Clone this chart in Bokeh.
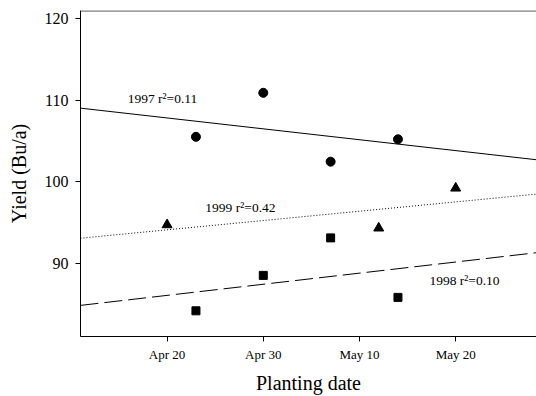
import numpy as np
from bokeh.plotting import figure
from bokeh.models import Range1d, FixedTicker, Label, Span
from bokeh.embed import file_html
from bokeh.resources import INLINE

# Planting dates as day of year (non-leap)
x1997 = [113, 120, 127, 134]
y1997 = [105.5, 110.9, 102.45, 105.2]
x1998 = [113, 120, 127, 134]
y1998 = [84.15, 88.5, 93.1, 85.8]
x1999 = [110, 132, 140]
y1999 = [94.7, 94.3, 99.2]

tick_days = [110, 120, 130, 140]
tick_labels = ["Apr 20", "Apr 30", "May 10", "May 20"]
y_ticks = [90, 100, 110, 120]

labels = ["1997 r\u00b2=0.11", "1999 r\u00b2=0.42", "1998 r\u00b2=0.10"]

FONT = "Liberation Serif"

xr = Range1d(101, 148.4)
p = figure(width=536, height=396, x_range=xr, y_range=Range1d(81, 121),
           output_backend="svg", toolbar_location=None,
           min_border_left=80, min_border_right=0, min_border_top=10, min_border_bottom=60)
p.grid.visible = False
p.outline_line_color = None
p.background_fill_color = "white"
p.border_fill_color = "white"

for ax in (p.xaxis[0], p.yaxis[0]):
    ax.axis_line_color = "black"
    ax.major_tick_line_color = "black"
    ax.minor_tick_line_color = None
    ax.major_tick_in = 0
    ax.major_tick_out = 5
    ax.major_label_text_font = FONT
    ax.major_label_text_color = "black"
    ax.axis_label_text_font = FONT
    ax.axis_label_text_font_style = "normal"
    ax.axis_label_text_color = "black"
    ax.axis_label_text_font_size = "20px"

p.xaxis.ticker = FixedTicker(ticks=tick_days)
p.xaxis.major_label_overrides = {d: l for d, l in zip(tick_days, tick_labels)}
p.xaxis.major_label_text_font_size = "13px"
p.xaxis.major_label_standoff = 5
p.xaxis.axis_label = "Planting date"
p.xaxis.axis_label_standoff = 7

p.yaxis.ticker = FixedTicker(ticks=y_ticks)
p.yaxis.major_label_text_font_size = "16px"
p.yaxis.major_label_standoff = 7
p.yaxis.axis_label = "Yield (Bu/a)"
p.yaxis.axis_label_standoff = 12

# top border line
p.add_layout(Span(location=121, dimension="width", line_color="#7f7f7f", line_width=2.5))

# regression lines fitted from the points
xs_line = np.array([xr.start, xr.end])
for xs, ys, dash in ((x1997, y1997, "solid"), (x1999, y1999, "1 2"), (x1998, y1998, "18 6")):
    m, b = np.polyfit(xs, ys, 1)
    p.line(xs_line, m * xs_line + b, line_color="black", line_width=1, line_dash=dash)

p.scatter(x1997, y1997, marker="circle", size=9, color="black")
p.scatter(x1998, y1998, marker="square", size=8, color="black")
p.scatter(x1999, y1999, marker="triangle", size=10, color="black")

for (lx, ly), txt in zip([(105.9, 110.17), (113.98, 96.85), (137.27, 87.83)], labels):
    p.add_layout(Label(x=lx, y=ly, text=txt, text_font=FONT, text_font_size="13.5px",
                       text_baseline="middle", text_align="left", text_color="black"))

open("out.html", "w").write(file_html(p, INLINE))
